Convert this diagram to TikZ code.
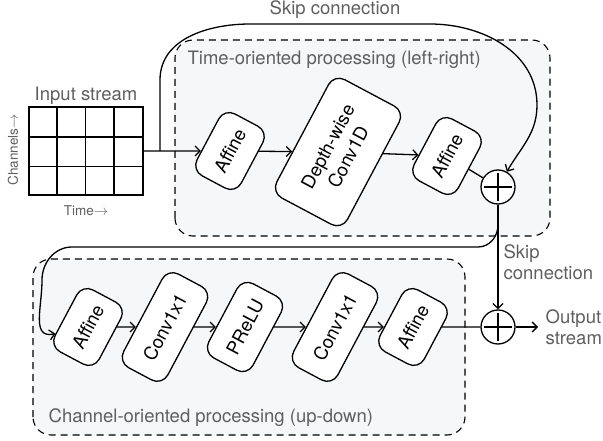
\documentclass[tikz,border=0pt]{standalone}
\usepackage{fontspec}
\setmainfont{TeX Gyre Heros}
\usetikzlibrary{arrows.meta,positioning,calc}
\definecolor{labelgray}{RGB}{95,95,95}
\definecolor{regionfill}{RGB}{246,247,249}

\begin{document}
\begin{tikzpicture}[x=1pt,y=1pt,>={Straight Barb[length=5pt,width=10pt]},line width=1.3pt,
    block/.style={draw,fill=white,rounded corners=12pt,rotate=62,minimum height=50pt,minimum width=70pt,align=center,inner sep=0pt,font=\fontsize{18.5}{23}\selectfont},
    sum/.style={draw,circle,fill=white,minimum size=34pt,inner sep=0pt,path picture={
        \draw[line width=1.7pt,shorten >=3pt,shorten <=3pt] (path picture bounding box.north) -- (path picture bounding box.south);
        \draw[line width=1.7pt,shorten >=3pt,shorten <=3pt] (path picture bounding box.west) -- (path picture bounding box.east);}},
    region/.style={draw,dash pattern=on 7pt off 5pt,fill=regionfill,rounded corners=18pt,line width=1.1pt},
    graytext/.style={text=labelgray,font=\fontsize{18.5}{21}\selectfont,inner sep=0pt},
    smallgray/.style={text=labelgray,font=\fontsize{13.5}{15}\selectfont,inner sep=0pt}]
    \useasboundingbox (0,0) rectangle (603,440);

    \draw[region] (175,204) rectangle (550,400);
    \draw[region] (33,5) rectangle (465,181);
    \node[graytext,anchor=base west] (timetitle) at (187,375) {Time-oriented processing (left-right)};
    \node[graytext,anchor=base west] (chantitle) at (48,18) {Channel-oriented processing (up-down)};

    \node[draw,minimum width=114pt,minimum height=88pt,inner sep=0pt] (input) at (86,289) {};
    \foreach \i in {1,2,3}
        \draw ($(input.south west)+(28.5*\i,0)$) -- ++(0,88);
    \foreach \j in {1,2}
        \draw ($(input.south west)+(0,29.33*\j)$) -- ++(114,0);
    \node[graytext,anchor=base] (inlabel) at (86,339) {Input stream};
    \node[smallgray,rotate=90] (chanlabel) at (13,290) {Channels$\rightarrow$};
    \node[smallgray,anchor=base] (timelabel) at (86,225) {Time$\rightarrow$};

    \node[block] (aff1) at (230,289) {Affine};
    \node[block,minimum width=134pt,minimum height=80pt] (dw) at (338,288) {Depth-wise\\Conv1D};
    \node[block] (aff2) at (447,284) {Affine};
    \node[sum] (plus1) at (498,253) {};

    \node[block] (aff3) at (88,113) {Affine};
    \node[block,minimum width=106pt] (conv1) at (165,113) {Conv1x1};
    \node[block,minimum width=84pt] (prelu) at (245,113) {PReLU};
    \node[block,minimum width=106pt] (conv2) at (335,113) {Conv1x1};
    \node[block] (aff4) at (413,113) {Affine};
    \node[sum] (plus2) at (498,113) {};

    \coordinate (split1) at (160,289);
    \coordinate (split2) at (498,215);
    \node[graytext,anchor=base] (skiptop) at (335,425) {Skip connection};
    \node[graytext,anchor=west,align=left] (skipside) at (503,178) {Skip\\connection};
    \node[graytext,anchor=west,align=left,inner xsep=7pt] (outtext) at (538,113) {Output\\stream};

    \draw[->] (input.east) -- (aff1);
    \draw[->] (aff1) -- (dw);
    \draw[->] (dw) -- (aff2);
    \draw (aff2) -- (plus1);
    \draw[->] (split1) -- (160,360) to[out=90,in=180] (250,416) -- (430,416) to[out=0,in=90] (537,335) to[out=-90,in=60] (plus1);
    \draw[->] (plus1) -- (plus2);
    \draw[->] (split2) to[out=-90,in=0] (478,193) -- (72,193) to[out=180,in=90] (42,160) to[out=-90,in=155] (aff3);
    \draw[->] (aff3) -- (conv1);
    \draw[->] (conv1) -- (prelu);
    \draw[->] (prelu) -- (conv2);
    \draw[->] (conv2) -- (aff4);
    \draw (aff4) -- (plus2);
    \draw[->] (plus2) -- (outtext.west);
\end{tikzpicture}
\end{document}
